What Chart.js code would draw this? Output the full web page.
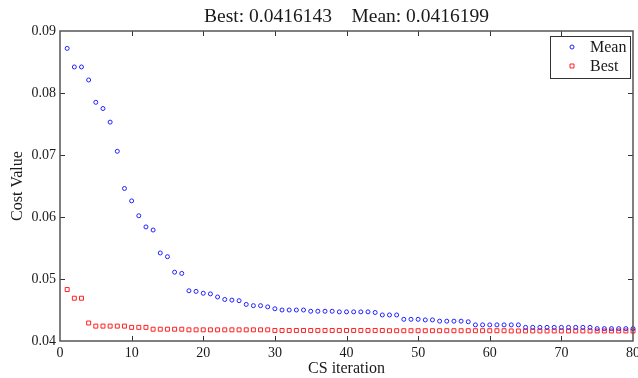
<!DOCTYPE html>
<html>
<head>
<meta charset="utf-8">
<script src="https://cdn.jsdelivr.net/npm/chart.js@4/dist/chart.umd.min.js"></script>
<style>
  html, body { margin: 0; padding: 0; background: #fff; }
  canvas { display: block; }
</style>
</head>
<body>
<canvas id="c" width="638" height="378"></canvas>
<script>
// ---- data ----
const iterations = [1,2,3,4,5,6,7,8,9,10,11,12,13,14,15,16,17,18,19,20,
  21,22,23,24,25,26,27,28,29,30,31,32,33,34,35,36,37,38,39,40,
  41,42,43,44,45,46,47,48,49,50,51,52,53,54,55,56,57,58,59,60,
  61,62,63,64,65,66,67,68,69,70,71,72,73,74,75,76,77,78,79,80];

const meanCost = [0.0872,0.0842,0.0842,0.0821,0.0785,0.0775,0.0753,0.0706,0.0646,0.0626,
  0.0602,0.0584,0.0579,0.0542,0.0536,0.0511,0.0509,0.0481,0.0480,0.0477,
  0.0476,0.0471,0.0467,0.0466,0.0465,0.0459,0.0457,0.0457,0.0455,0.0452,
  0.0450,0.0450,0.0450,0.0450,0.0448,0.0448,0.0448,0.0448,0.0447,0.0447,
  0.0447,0.0447,0.0447,0.0446,0.0442,0.0442,0.0442,0.0435,0.0435,0.0435,
  0.0434,0.0434,0.0432,0.0432,0.0432,0.0432,0.0431,0.0426,0.0426,0.0426,
  0.0426,0.0426,0.0426,0.0426,0.0422,0.0422,0.0422,0.0422,0.0422,0.0422,
  0.0422,0.0422,0.0422,0.0422,0.0420,0.0420,0.0420,0.0420,0.0420,0.0420];

const bestCost = [0.0483,0.0469,0.0469,0.0429,0.0424,0.0424,0.0424,0.0424,0.0424,0.0422,
  0.0422,0.0422,0.0419,0.0419,0.0419,0.0419,0.0419,0.0418,0.0418,0.0418,
  0.0418,0.0418,0.0418,0.0418,0.0418,0.0418,0.0418,0.0418,0.0418,0.0417,
  0.0417,0.0417,0.0417,0.0417,0.0417,0.0417,0.0417,0.0417,0.0417,0.0417,
  0.0417,0.0417,0.0417,0.0417,0.0417,0.04166,0.04166,0.04166,0.04166,0.04166,
  0.04166,0.04166,0.04166,0.04166,0.04166,0.04166,0.04166,0.04166,0.04166,0.04166,
  0.04166,0.04166,0.04162,0.04162,0.04162,0.04162,0.04162,0.04162,0.04162,0.04162,
  0.04162,0.04162,0.04162,0.04162,0.04162,0.04162,0.04162,0.04162,0.04162,0.0416143];

const xTicks = [0,10,20,30,40,50,60,70,80];
const yTicks = [0.04,0.05,0.06,0.07,0.08,0.09];
const titleText = 'Best: 0.0416143    Mean: 0.0416199';
const seriesNames = ['Mean','Best'];
// ----------------------------------------------

const SERIF = "'Liberation Serif', 'Times New Roman', serif";
const INK = '#1a1a1a';

const framePlugin = {
  id: 'frame',
  afterDatasetsDraw(chart) {
    const {ctx, chartArea: a, scales} = chart;
    ctx.save();
    ctx.strokeStyle = '#333';
    ctx.lineWidth = 1;
    const L = 5;
    xTicks.forEach(v => {
      if (v === xTicks[0] || v === xTicks[xTicks.length-1]) return;
      const x = Math.round(scales.x.getPixelForValue(v)) + 0.5;
      ctx.beginPath();
      ctx.moveTo(x, a.bottom); ctx.lineTo(x, a.bottom - L);
      ctx.moveTo(x, a.top); ctx.lineTo(x, a.top + L);
      ctx.stroke();
    });
    yTicks.forEach(v => {
      if (v === yTicks[0] || v === yTicks[yTicks.length-1]) return;
      const y = Math.round(scales.y.getPixelForValue(v)) + 0.5;
      ctx.beginPath();
      ctx.moveTo(a.left, y); ctx.lineTo(a.left + L, y);
      ctx.moveTo(a.right, y); ctx.lineTo(a.right - L, y);
      ctx.stroke();
    });
    ctx.strokeStyle = '#555';
    ctx.lineWidth = 1.5;
    ctx.strokeRect(a.left, a.top, a.right - a.left, a.bottom - a.top);
    ctx.restore();
  },
  afterDraw(chart) {
    // legend box, top-right inside the plot
    const {ctx, chartArea: a} = chart;
    const bx = a.right - 83, by = a.top + 5, bw = 80, bh = 42;
    ctx.save();
    ctx.fillStyle = '#fff';
    ctx.fillRect(bx, by, bw, bh);
    ctx.strokeStyle = '#333';
    ctx.lineWidth = 1;
    ctx.strokeRect(bx + 0.5, by + 0.5, bw, bh);
    ctx.font = '16px ' + SERIF;
    ctx.textBaseline = 'middle';
    ctx.textAlign = 'left';
    chart.data.datasets.forEach((ds, i) => {
      const cy = by + 11 + i * 19;
      ctx.strokeStyle = ds.borderColor;
      ctx.fillStyle = 'rgba(0,0,0,0)';
      ctx.lineWidth = ds.borderWidth;
      Chart.helpers.drawPoint(ctx, {pointStyle: ds.pointStyle, radius: ds.pointRadius, borderWidth: ds.borderWidth}, bx + 22, cy);
      ctx.fillStyle = INK;
      ctx.fillText(ds.label, bx + 40, cy + 1);
    });
    ctx.restore();
  }
};

new Chart(document.getElementById('c'), {
  type: 'scatter',
  data: {
    datasets: [
      {
        label: seriesNames[0],
        data: iterations.map((x, i) => ({x, y: meanCost[i]})),
        pointStyle: 'circle',
        pointRadius: 2,
        borderColor: '#2020ff',
        backgroundColor: 'rgba(0,0,0,0)',
        borderWidth: 1,
        clip: false
      },
      {
        label: seriesNames[1],
        data: iterations.map((x, i) => ({x, y: bestCost[i]})),
        pointStyle: 'rect',
        pointRadius: 2.8,
        borderColor: '#ff2020',
        backgroundColor: 'rgba(0,0,0,0)',
        borderWidth: 1,
        clip: false
      }
    ]
  },
  options: {
    responsive: false,
    animation: false,
    devicePixelRatio: 1,
    events: [],
    layout: { padding: { left: 0, right: 2, top: 0, bottom: 0 } },
    plugins: {
      legend: { display: false },
      tooltip: { enabled: false },
      title: {
        display: true,
        text: titleText,
        fullSize: false,
        color: INK,
        font: { family: SERIF, size: 19.5, weight: 'normal', lineHeight: 1.2 },
        padding: { top: 5.6, bottom: 2 }
      }
    },
    scales: {
      x: {
        type: 'linear',
        min: 0, max: 80,
        afterBuildTicks: s => { s.ticks = xTicks.map(v => ({value: v})); },
        afterFit: s => { s.height = 37; s.paddingLeft = 0; s.paddingRight = 0; },
        grid: { display: false, drawTicks: false },
        border: { display: false },
        ticks: { color: INK, font: { family: SERIF, size: 14 }, padding: 4, maxRotation: 0, autoSkip: false },
        title: { display: true, text: 'CS iteration', color: INK, font: { family: SERIF, size: 16 }, padding: { top: 0, bottom: 0 } }
      },
      y: {
        type: 'linear',
        min: 0.04, max: 0.09,
        afterBuildTicks: s => { s.ticks = yTicks.map(v => ({value: v})); },
        afterFit: s => { s.width = 60; s.paddingTop = 0; s.paddingBottom = 0; },
        grid: { display: false, drawTicks: false },
        border: { display: false },
        ticks: { color: INK, font: { family: SERIF, size: 14 }, padding: 4, callback: v => Number(v).toFixed(2) },
        title: { display: true, text: 'Cost Value', color: INK, font: { family: SERIF, size: 16 }, padding: { top: 8, bottom: 0 } }
      }
    }
  },
  plugins: [framePlugin]
});
</script>
</body>
</html>
